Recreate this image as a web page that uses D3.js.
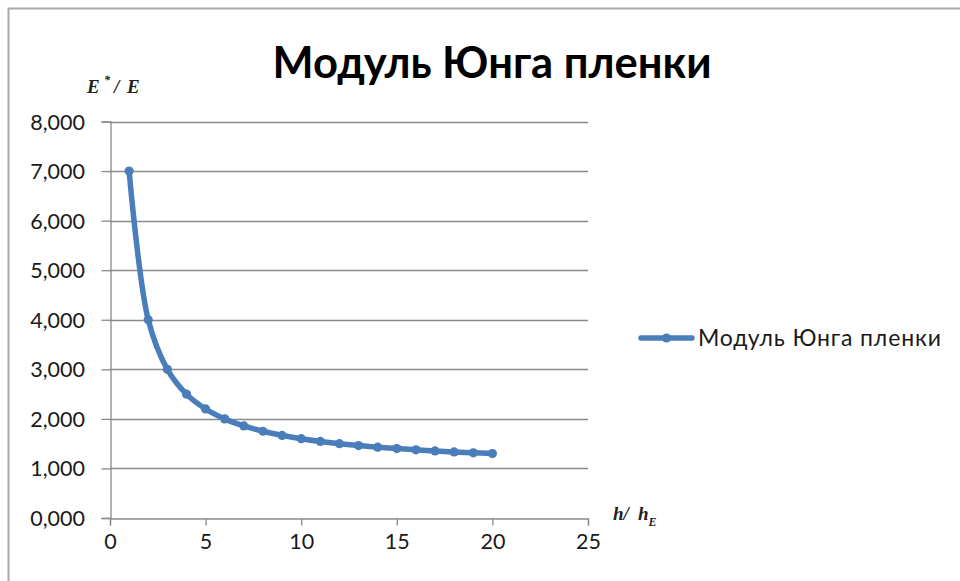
<!DOCTYPE html>
<html>
<head>
<meta charset="utf-8">
<script src="https://cdn.jsdelivr.net/npm/d3@7"></script>
<style>
  html, body { margin: 0; padding: 0; background: #fff; }
  svg { display: block; }
  text { font-family: "Lato", "Open Sans", sans-serif; }
</style>
</head>
<body>
<svg id="chart" width="960" height="581"></svg>
<script>
// Relative film Young's modulus E*/E versus thickness ratio h/hE
const thickness = [1, 2, 3, 4, 5, 6, 7, 8, 9, 10, 11, 12, 13, 14, 15, 16, 17, 18, 19, 20];
const modulus = [7.000, 4.000, 3.000, 2.500, 2.200, 2.000, 1.857, 1.750, 1.667, 1.600,
                 1.545, 1.500, 1.462, 1.429, 1.400, 1.375, 1.353, 1.333, 1.316, 1.300];
const xTicks = [0, 5, 10, 15, 20, 25];
const yTicks = [0, 1, 2, 3, 4, 5, 6, 7, 8];
const titleText = "Модуль Юнга пленки";
const seriesName = "Модуль Юнга пленки";

const W = 960, H = 581;
const plot = { left: 110, right: 588, top: 121.5, bottom: 518 };
const blue = "#4a7ebb";
const gridColor = "#8a8a8a";
const labelColor = "#1a1a1a";

const svg = d3.select("#chart");
svg.append("rect").attr("width", W).attr("height", H).attr("fill", "#fff");
// chart area frame
svg.append("rect")
  .attr("x", 8.5).attr("y", 8.5).attr("width", W).attr("height", H)
  .attr("fill", "none").attr("stroke", "#a9a9a9").attr("stroke-width", 2);

const x = d3.scaleLinear().domain([0, 25]).range([plot.left, plot.right]);
const y = d3.scaleLinear().domain([0, 8]).range([plot.bottom, plot.top]);

const ru = d3.formatLocale({ decimal: ",", thousands: " ", grouping: [3], currency: ["", ""] });
const fmt = ru.format(".3f");

// horizontal gridlines
svg.append("g")
  .selectAll("line").data(yTicks.filter(d => d > 0)).join("line")
  .attr("x1", plot.left).attr("x2", plot.right)
  .attr("y1", d => Math.round(y(d)) + 0.5).attr("y2", d => Math.round(y(d)) + 0.5)
  .attr("stroke", gridColor).attr("stroke-width", 1.3);

// y axis
const yAxis = svg.append("g")
  .attr("transform", `translate(${plot.left + 0.5},0)`)
  .call(d3.axisLeft(y).tickValues(yTicks).tickFormat(fmt).tickSize(9).tickPadding(16));
// x axis
const xAxis = svg.append("g")
  .attr("transform", `translate(0,${Math.round(plot.bottom) + 0.5})`)
  .call(d3.axisBottom(x).tickValues(xTicks).tickSize(7).tickPadding(8));

[yAxis, xAxis].forEach(g => {
  g.attr("font-family", null).attr("font-size", null);
  g.select(".domain").attr("stroke", gridColor).attr("stroke-width", 1.3);
  g.selectAll(".tick line").attr("stroke", gridColor).attr("stroke-width", 1.3);
  g.selectAll(".tick text").attr("fill", labelColor)
    .style("font-family", "Lato, sans-serif").style("font-size", "21.5px");
});
yAxis.selectAll(".tick text").attr("x", -25.5).attr("dy", "0.35em");

// series line
const pts = thickness.map((t, i) => [t, modulus[i]]);
const line = d3.line().x(d => x(d[0])).y(d => y(d[1])).curve(d3.curveCatmullRom.alpha(0.5));
svg.append("path").datum(pts)
  .attr("d", line).attr("fill", "none")
  .attr("stroke", blue).attr("stroke-width", 5.5)
  .attr("stroke-linejoin", "round").attr("stroke-linecap", "round");
svg.append("g").selectAll("circle").data(pts).join("circle")
  .attr("cx", d => x(d[0])).attr("cy", d => y(d[1])).attr("r", 4.6)
  .attr("fill", blue);

// title
svg.append("text")
  .attr("x", 492).attr("y", 78)
  .attr("text-anchor", "middle")
  .style("font-family", "Lato, sans-serif").style("font-weight", "bold").style("font-size", "43.5px")
  .attr("fill", "#000")
  .text(titleText);

// axis captions
const capStyle = sel => sel
  .style("font-family", "'Liberation Serif', serif").style("font-style", "italic")
  .style("font-weight", "bold").style("font-size", "19px").attr("fill", "#222");

const yCap = svg.append("text").attr("y", 93).call(capStyle);
yCap.append("tspan").attr("x", 87).text("E");
yCap.append("tspan").attr("x", 104).attr("dy", -9).style("font-size", "12px").text("*");
yCap.append("tspan").attr("x", 114).attr("dy", 9).text("/");
yCap.append("tspan").attr("x", 127).text("E");

const xCap = svg.append("text").attr("y", 520).call(capStyle);
xCap.append("tspan").attr("x", 613).text("h/");
xCap.append("tspan").attr("x", 638).text("h");
xCap.append("tspan").attr("dy", 6).style("font-size", "12px").text("E");

// legend
const legY = 338;
svg.append("line")
  .attr("x1", 641).attr("x2", 692).attr("y1", legY).attr("y2", legY)
  .attr("stroke", blue).attr("stroke-width", 5.5).attr("stroke-linecap", "round");
svg.append("circle").attr("cx", 666.5).attr("cy", legY).attr("r", 4.6).attr("fill", blue);
svg.append("text")
  .attr("x", 698).attr("y", legY + 8)
  .style("font-family", "Lato, sans-serif").style("font-size", "23px")
  .style("letter-spacing", "0.85px")
  .attr("fill", labelColor)
  .text(seriesName);
</script>
</body>
</html>
